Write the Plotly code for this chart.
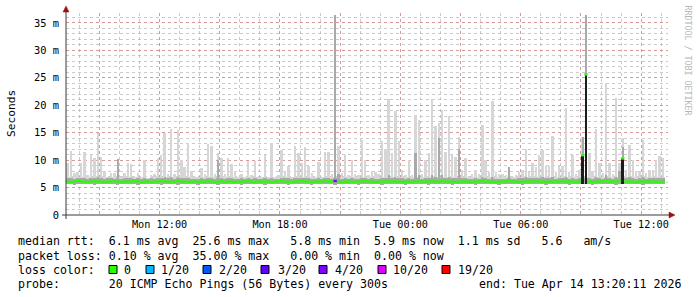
import pandas as pd
import plotly.graph_objects as go

# ---------------- data ----------------
bin_start = pd.Timestamp("2026-04-13 07:20:00")
bin_minutes = 10
range_start = pd.Timestamp("2026-04-13 07:20:11")
range_end = pd.Timestamp("2026-04-14 13:20:11")

# top of smoke (slowest ping) per 10-min bin, ms
rtt_max = [
    9.4, 11.7, 7.6, 7.9, 9.5, 11.5, 7.2, 10.9, 10.3, 14.9,
    10.6, 8.0, 7.0, 7.6, 7.6, 10.2, 7.0, 7.7, 9.5, 9.3,
    7.0, 7.7, 7.0, 10.0, 6.8, 7.3, 7.4, 10.3, 10.9, 14.9,
    7.5, 15.6, 7.5, 15.5, 10.0, 8.8, 13.2, 8.0, 7.0, 7.0,
    8.5, 7.5, 13.0, 12.5, 7.5, 11.3, 10.3, 7.5, 10.4, 9.3,
    8.0, 7.0, 7.5, 7.0, 9.9, 7.2, 9.9, 7.0, 7.0, 11.0,
    7.0, 13.1, 7.0, 7.3, 11.8, 8.0, 8.9, 7.0, 12.6, 11.3,
    9.4, 12.3, 8.9, 7.6, 7.0, 9.7, 7.0, 11.5, 11.4, 7.5,
    36.5, 12.6, 7.6, 11.0, 7.2, 10.0, 7.5, 7.2, 13.6, 10.0,
    7.2, 8.0, 7.8, 7.5, 13.4, 12.0, 21.1, 11.3, 19.0, 13.4,
    8.2, 7.2, 10.0, 7.2, 18.2, 17.3, 7.5, 10.0, 11.3, 21.1,
    16.2, 16.7, 19.1, 11.5, 18.0, 11.0, 10.6, 14.3, 8.2, 10.3,
    7.0, 7.5, 8.2, 7.5, 16.4, 10.1, 7.8, 20.8, 7.8, 7.5,
    7.5, 7.2, 8.8, 7.0, 7.2, 7.8, 8.2, 12.1, 8.0, 9.4,
    8.8, 11.0, 11.8, 8.9, 8.9, 14.4, 7.8, 8.9, 8.9, 19.5,
    7.8, 11.0, 7.5, 8.2, 14.3, 36.5, 11.3, 8.0, 15.6, 9.4,
    7.6, 24.0, 9.4, 7.5, 21.3, 9.4, 14.0, 8.2, 12.8, 10.0,
    8.0, 8.0, 13.7, 7.6, 8.2, 8.2, 10.0, 10.8, 10.3, None,
]

# top of the denser (darker) part of the smoke, ms
rtt_mid = [
    6.7, 6.8, 6.6, 6.7, 6.7, 6.8, 6.6, 6.7, 6.8, 6.9,
    6.7, 6.6, 6.7, 6.7, 6.6, 10.2, 6.6, 6.7, 6.8, 6.7,
    6.6, 6.7, 6.6, 6.7, 6.6, 6.7, 6.6, 6.7, 6.8, 6.9,
    6.7, 6.9, 6.6, 6.9, 6.7, 6.7, 6.8, 6.6, 6.6, 6.6,
    6.7, 6.6, 6.8, 6.8, 6.6, 10.0, 6.7, 6.6, 6.7, 6.7,
    6.6, 6.6, 6.7, 6.6, 6.7, 6.6, 6.7, 6.6, 6.6, 6.8,
    6.6, 6.8, 6.6, 6.6, 6.8, 6.7, 6.7, 6.6, 6.8, 6.7,
    6.7, 6.8, 6.7, 6.6, 6.6, 6.7, 6.6, 6.8, 6.8, 6.6,
    36.5, 7.5, 6.6, 6.7, 6.6, 6.7, 6.6, 6.6, 6.8, 6.7,
    6.6, 6.7, 6.6, 6.6, 6.8, 6.8, 7.2, 6.8, 7.0, 6.8,
    6.7, 6.6, 6.7, 6.6, 11.3, 7.2, 6.6, 6.7, 6.8, 7.2,
    7.0, 14.0, 7.2, 6.8, 7.0, 6.8, 6.7, 12.0, 6.7, 6.8,
    6.6, 6.6, 6.7, 6.6, 7.0, 6.8, 6.6, 7.0, 6.6, 6.6,
    6.6, 6.6, 8.8, 6.6, 6.6, 6.7, 6.7, 6.9, 6.7, 6.8,
    6.7, 6.8, 6.9, 6.7, 6.7, 7.0, 6.6, 6.7, 6.7, 7.0,
    6.6, 6.8, 6.6, 6.7, 14.3, 36.5, 6.8, 6.6, 7.0, 6.8,
    6.6, 7.2, 6.8, 6.6, 7.0, 8.0, 12.4, 6.7, 6.9, 6.8,
    6.6, 6.7, 6.9, 6.6, 6.7, 6.7, 6.8, 6.8, 6.8, None,
]

# bottom of smoke (fastest ping), ms
rtt_min = [
    5.6, 5.6, 5.5, 5.6, 5.6, 5.7, 5.6, 5.6, 5.5, 5.6,
    5.6, 5.6, 5.7, 5.6, 5.6, 5.5, 5.6, 5.6, 5.6, 5.7,
    5.6, 5.5, 5.6, 5.6, 5.6, 5.6, 5.7, 5.6, 5.5, 5.6,
    5.6, 5.6, 5.6, 5.5, 5.6, 5.7, 5.6, 5.6, 5.6, 5.5,
    5.6, 5.6, 5.6, 5.7, 5.6, 5.5, 5.6, 5.6, 5.6, 5.6,
    5.7, 5.6, 5.5, 5.6, 5.6, 5.6, 5.6, 5.7, 5.6, 5.5,
    5.6, 5.6, 5.6, 5.6, 5.7, 5.6, 5.5, 5.6, 5.6, 5.6,
    5.6, 5.7, 5.6, 5.5, 5.6, 5.6, 5.6, 5.6, 5.7, 5.6,
    5.5, 5.6, 5.6, 5.6, 5.6, 5.7, 5.6, 5.5, 5.6, 5.6,
    5.6, 5.6, 5.7, 5.6, 5.5, 5.6, 5.6, 5.6, 5.6, 5.7,
    5.6, 5.5, 5.6, 5.6, 5.6, 5.6, 5.7, 5.6, 5.5, 5.6,
    5.6, 5.6, 5.6, 5.7, 5.6, 5.5, 5.6, 5.6, 5.6, 5.6,
    5.7, 5.6, 5.5, 5.6, 5.6, 5.6, 5.6, 5.7, 5.6, 5.5,
    5.6, 5.6, 5.6, 5.6, 5.7, 5.6, 5.5, 5.6, 5.6, 5.6,
    5.6, 5.7, 5.6, 5.5, 5.6, 5.6, 5.6, 5.6, 5.7, 5.6,
    5.5, 5.6, 5.6, 5.6, 5.7, 5.7, 5.6, 5.5, 5.6, 5.6,
    5.6, 5.6, 5.7, 5.6, 5.5, 5.6, 5.7, 5.6, 5.6, 5.6,
    5.7, 5.6, 5.5, 5.6, 5.6, 5.6, 5.6, 5.7, 5.6, None,
]

# median rtt, ms
rtt_median = [
    6.1, 6.0, 6.1, 6.2, 6.1, 6.1, 6.0, 6.1, 6.2, 6.1,
    6.1, 6.0, 6.1, 6.1, 6.2, 6.1, 6.0, 6.1, 6.1, 6.1,
    6.2, 6.1, 6.0, 6.1, 6.1, 6.0, 6.1, 6.1, 6.2, 6.1,
    6.1, 6.0, 6.1, 6.2, 6.1, 6.1, 6.0, 6.1, 6.1, 6.0,
    6.1, 6.1, 6.2, 6.1, 6.0, 6.1, 6.1, 6.0, 6.1, 6.1,
    6.0, 6.1, 6.1, 6.1, 6.2, 6.1, 6.0, 6.1, 6.1, 6.1,
    6.1, 6.0, 6.1, 6.1, 6.2, 6.1, 6.1, 6.0, 6.1, 6.1,
    6.2, 6.1, 6.1, 6.0, 6.1, 6.1, 6.1, 6.2, 6.1, 6.1,
    6.2, 6.1, 6.0, 6.1, 6.1, 6.1, 6.0, 6.1, 6.1, 6.2,
    6.1, 6.1, 6.0, 6.1, 6.1, 6.1, 6.2, 6.1, 6.1, 6.1,
    6.0, 6.1, 6.1, 6.0, 6.1, 6.2, 6.1, 6.1, 6.1, 6.2,
    6.1, 6.1, 6.2, 6.1, 6.1, 6.1, 6.0, 6.1, 6.1, 6.1,
    6.1, 6.0, 6.1, 6.1, 6.2, 6.1, 6.1, 6.1, 6.0, 6.1,
    6.1, 6.1, 6.2, 6.1, 6.1, 6.0, 6.1, 6.1, 6.1, 6.1,
    6.2, 6.1, 6.1, 6.0, 6.1, 6.1, 6.1, 6.1, 6.2, 6.1,
    6.1, 6.1, 6.0, 6.1, 10.9, 25.6, 6.1, 6.0, 6.1, 6.1,
    6.1, 6.2, 6.1, 6.1, 6.1, 6.2, 10.3, 6.1, 6.1, 6.1,
    6.0, 6.1, 6.1, 6.2, 6.1, 6.1, 6.1, 6.0, 6.1, None,
]

# bins where the smoke core under the median is nearly black
dark_times = ["2026-04-14 09:00", "2026-04-14 09:10", "2026-04-14 11:00"]
dark_tops = [10.9, 25.6, 10.3]

# bins with packet loss (count of 20)
loss_times = ["2026-04-13 20:40"]
loss_counts = [7]

loss_labels = ["0", "1/20", "2/20", "3/20", "4/20", "10/20", "19/20"]
loss_thresholds = [0, 1, 2, 3, 4, 10, 19]
loss_colors = ["#26ff00", "#00b8ff", "#0059ff", "#5e00ff", "#7e00ff", "#dd00ff", "#ff0000"]

x_tick_times = ["2026-04-13 09:00", "2026-04-13 12:00", "2026-04-13 15:00", "2026-04-13 18:00",
                "2026-04-13 21:00", "2026-04-14 00:00", "2026-04-14 03:00", "2026-04-14 06:00",
                "2026-04-14 09:00", "2026-04-14 12:00"]
x_tick_labels = ["", "Mon 12:00", "", "Mon 18:00", "", "Tue 00:00", "", "Tue 06:00", "", "Tue 12:00"]
y_tick_vals = [0, 5, 10, 15, 20, 25, 30, 35]
y_tick_labels = ["0", "5 m", "10 m", "15 m", "20 m", "25 m", "30 m", "35 m"]
y_max = 36.8

legend_lines = [
    "median rtt:  6.1 ms avg  25.6 ms max   5.8 ms min  5.9 ms now  1.1 ms sd   5.6   am/s",
    "packet loss: 0.10 % avg  35.00 % max   0.00 % min  0.00 % now",
    "loss color:",
    "probe:       20 ICMP Echo Pings (56 Bytes) every 300s",
]
end_label = "end: Tue Apr 14 13:20:11 2026"
watermark = "RRDTOOL / TOBI OETIKER"

# ---------------- geometry ----------------
W, H = 697, 297
L, R, T, B = 66, 668, 13, 215
PW, PH = R - L, B - T
MONO = "DejaVu Sans Mono"
SMOKE_BODY = 7.0   # smoke drawn full-width up to here, narrower spikes above


def px(x):
    return (x - L) / PW


def py(y):
    return (B - y) / PH


step = pd.Timedelta(minutes=bin_minutes)
times = [bin_start + i * step for i in range(len(rtt_max))]
centers = [t + step / 2 for t in times]
width_ms = step.total_seconds() * 1000

fig = go.Figure()


def band(tops, bottoms, color, width_frac=1.0, cap=None):
    xs, ys, bs = [], [], []
    for c, t, b in zip(centers, tops, bottoms):
        if t is None or b is None:
            continue
        if cap is not None:
            t = min(t, cap)
        if t <= b:
            continue
        xs.append(c)
        ys.append(t - b)
        bs.append(b)
    fig.add_trace(go.Bar(x=xs, y=ys, base=bs, width=width_ms * width_frac, marker_color=color,
                         marker_line_width=0, hoverinfo="skip"))


light = "#d6d6d6"
mid = "#a9a9a9"
band(rtt_max, rtt_min, light, width_frac=0.72)                 # spikes
band(rtt_max, rtt_min, light, width_frac=1.0, cap=SMOKE_BODY)  # body of smoke
band(rtt_mid, rtt_min, mid, width_frac=0.65)
band(rtt_mid, rtt_min, mid, width_frac=1.0, cap=6.7)

# dark core
dk_x, dk_y, dk_b = [], [], []
for t, top in zip(dark_times, dark_tops):
    ts = pd.Timestamp(t)
    i = int((ts - bin_start) / step)
    dk_x.append(ts + step / 2)
    dk_b.append(rtt_min[i])
    dk_y.append(top - rtt_min[i])
fig.add_trace(go.Bar(x=dk_x, y=dk_y, base=dk_b, width=width_ms * 0.8, marker_color="#1c1c1c",
                     marker_line_width=0, hoverinfo="skip"))


def loss_color(n):
    col = loss_colors[0]
    for th, c in zip(loss_thresholds, loss_colors):
        if n >= th:
            col = c
    return col


loss_map = {pd.Timestamp(t): n for t, n in zip(loss_times, loss_counts)}
seg = {}
for t, m in zip(times, rtt_median):
    if m is None:
        continue
    col = loss_color(loss_map.get(t, 0))
    xs, ys = seg.setdefault(col, ([], []))
    xs += [t, t + step, None]
    ys += [m, m, None]
for col, (xs, ys) in seg.items():
    fig.add_trace(go.Scatter(x=xs, y=ys, mode="lines", line=dict(color=col, width=2.4),
                             hoverinfo="skip", connectgaps=False))

# ---------------- layout ----------------
major = "rgba(225,120,120,0.6)"
minor = "rgba(160,160,160,0.55)"

fig.update_layout(
    width=W, height=H,
    margin=dict(l=L, r=W - R, t=T, b=H - B, pad=0),
    paper_bgcolor="white", plot_bgcolor="white",
    barmode="overlay", bargap=0, showlegend=False,
    font=dict(family=MONO, size=10.4, color="#000000"),
    xaxis=dict(
        type="date", range=[range_start, range_end],
        tickmode="array", tickvals=x_tick_times, ticktext=x_tick_labels,
        showgrid=True, gridcolor=major, griddash="dot", gridwidth=1,
        ticks="", showline=False, zeroline=False, ticklabelstandoff=2,
        tickfont=dict(family=MONO, size=10.2, color="#000000"),
        minor=dict(dtick=3600000, tick0="2026-04-13 08:00", showgrid=True,
                   gridcolor=minor, griddash="dot", gridwidth=1, ticks="", ticklen=0),
    ),
    yaxis=dict(
        range=[0, y_max], tickmode="array", tickvals=y_tick_vals, ticktext=y_tick_labels,
        showgrid=True, gridcolor=major, griddash="dot", gridwidth=1,
        ticks="", showline=False, zeroline=False, ticklabelstandoff=6,
        tickfont=dict(family=MONO, size=10.4, color="#000000"),
        minor=dict(dtick=1, tick0=0, showgrid=True, gridcolor=minor, griddash="dot",
                   gridwidth=1, ticks="", ticklen=0),
    ),
)

shapes = []
axis_col = "#3a3a3a"
arrow_col = "#9b1111"
# axes
shapes.append(dict(type="line", xref="paper", yref="paper", x0=px(66), x1=px(66),
                   y0=py(219), y1=py(9), line=dict(color=axis_col, width=1)))
shapes.append(dict(type="line", xref="paper", yref="paper", x0=px(62), x1=px(670),
                   y0=py(215), y1=py(215), line=dict(color=axis_col, width=1)))
# arrows
shapes.append(dict(type="path", xref="paper", yref="paper",
                   path=f"M {px(63)} {py(12)} L {px(69)} {py(12)} L {px(66)} {py(6)} Z",
                   fillcolor=arrow_col, line=dict(color=arrow_col, width=0.5)))
shapes.append(dict(type="path", xref="paper", yref="paper",
                   path=f"M {px(669)} {py(212)} L {px(669)} {py(218)} L {px(675)} {py(215)} Z",
                   fillcolor=arrow_col, line=dict(color=arrow_col, width=0.5)))

# legend boxes
box_left = [109, 146, 203, 261, 319, 378, 442]
label_left = [122, 159, 217, 276, 333, 391, 456]
for bx, col in zip(box_left, loss_colors):
    shapes.append(dict(type="rect", xref="paper", yref="paper",
                       x0=px(bx), x1=px(bx + 8), y0=py(273.5), y1=py(265.5),
                       fillcolor=col, line=dict(color="#000000", width=1)))

annotations = []
line_y = [241.5, 255.5, 269.5, 283.5]
for txt, yy in zip(legend_lines, line_y):
    annotations.append(dict(text=txt.replace(" ", "\u00a0"), xref="paper", yref="paper",
                            x=px(16), y=py(yy), xanchor="left", yanchor="middle",
                            showarrow=False, font=dict(family=MONO, size=11.6, color="#000")))
for lx, lab in zip(label_left, loss_labels):
    annotations.append(dict(text=lab, xref="paper", yref="paper",
                            x=px(lx), y=py(line_y[2]), xanchor="left", yanchor="middle",
                            showarrow=False, font=dict(family=MONO, size=11.6, color="#000")))
annotations.append(dict(text=end_label.replace(" ", "\u00a0"), xref="paper", yref="paper",
                        x=px(477), y=py(line_y[3]), xanchor="left", yanchor="middle",
                        showarrow=False, font=dict(family=MONO, size=11.6, color="#000")))
annotations.append(dict(text="Seconds", xref="paper", yref="paper", x=px(11), y=py(114),
                        xanchor="center", yanchor="middle", textangle=-90, showarrow=False,
                        font=dict(family=MONO, size=11.2, color="#000")))
annotations.append(dict(text=watermark.replace(" ", "\u00a0"), xref="paper", yref="paper",
                        x=px(687.5), y=py(60), xanchor="center", yanchor="middle", textangle=90,
                        showarrow=False, font=dict(family=MONO, size=8.3, color="#b8b8b8")))

fig.update_layout(shapes=shapes, annotations=annotations)
fig.write_html("out.html")
